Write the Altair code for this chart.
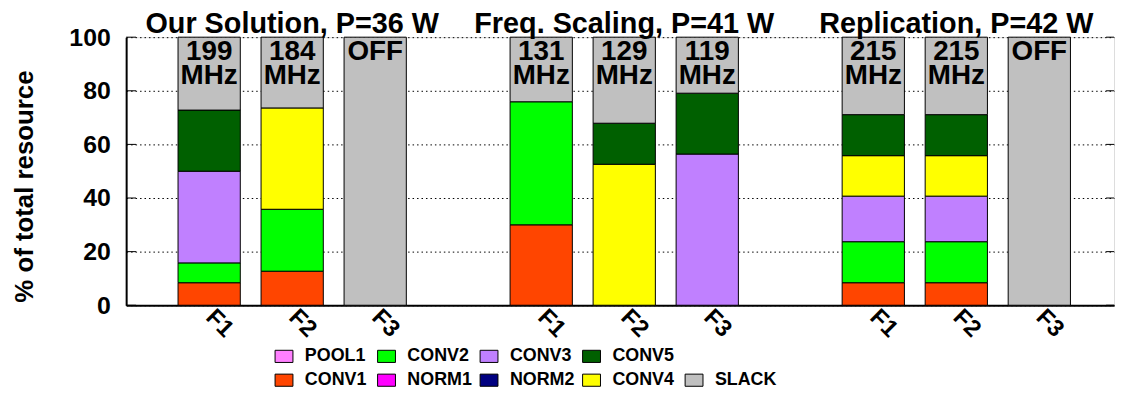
import altair as alt
import pandas as pd

FONT = "Liberation Sans"

# ---------------- data ----------------
group_titles = ["Our Solution, P=36 W", "Freq. Scaling, P=41 W", "Replication, P=42 W"]
group_centers = [2, 6, 10]
bar_positions = [1, 2, 3, 5, 6, 7, 9, 10, 11]
bar_fpga = ["F1", "F2", "F3", "F1", "F2", "F3", "F1", "F2", "F3"]
bar_labels = ["199\n MHz", "184\n MHz", "OFF",
              "131\n MHz", "129\n MHz", "119\n MHz",
              "215\n MHz", "215\n MHz", "OFF"]

components = ["POOL1", "CONV1", "CONV2", "NORM1", "CONV3", "NORM2", "CONV4", "CONV5", "SLACK"]
colors = ["#ff80ff", "#ff4500", "#00ff00", "#ff00ff", "#c080ff", "#000080", "#ffff00", "#006000", "#c0c0c0"]

stack_order = ["CONV1", "CONV2", "CONV3", "CONV4", "CONV5", "SLACK"]
conv1 = [8.4, 12.7, 0, 30.0, 0, 0, 8.4, 8.4, 0]
conv2 = [7.4, 23.1, 0, 45.9, 0, 0, 15.3, 15.3, 0]
conv3 = [34.2, 0, 0, 0, 0, 56.4, 17.0, 17.0, 0]
conv4 = [0, 37.8, 0, 0, 52.6, 0, 15.1, 15.1, 0]
conv5 = [22.8, 0, 0, 0, 15.3, 22.7, 15.3, 15.3, 0]
slack = [27.2, 26.4, 100, 24.1, 32.1, 20.9, 28.9, 28.9, 100]

y_ticks = [0, 20, 40, 60, 80, 100]

legend_row1 = ["POOL1", "CONV2", "CONV3", "CONV5"]
legend_row2 = ["CONV1", "NORM1", "NORM2", "CONV4", "SLACK"]

# ---------------- tables ----------------
series = dict(zip(stack_order, [conv1, conv2, conv3, conv4, conv5, slack]))
rows = []
bar_rows = []
for i, pos in enumerate(bar_positions):
    acc = 0.0
    for comp in stack_order:
        v = series[comp][i]
        if v > 0:
            rows.append({"pos": pos, "component": comp, "y0": acc, "y1": acc + v})
            acc += v
    bar_rows.append({"pos": pos, "label": bar_labels[i], "top": acc})
seg = pd.DataFrame(rows)
bar_df = pd.DataFrame(bar_rows)
title_df = pd.DataFrame({"x": group_centers, "title": group_titles, "y": [100] * 3})
tick_df = pd.DataFrame({"v": y_ticks})
leg_rows = [{"label": l, "lcol": c, "lrow": 0} for c, l in enumerate(legend_row1)]
leg_rows += [{"label": l, "lcol": c, "lrow": 1} for c, l in enumerate(legend_row2)]
leg_df = pd.DataFrame(leg_rows)

W, H = 995, 270
xscale = alt.Scale(domain=[0, 11.9], nice=False, zero=False)
yscale = alt.Scale(domain=[0, 100], nice=False)
color_scale = alt.Scale(domain=components, range=colors)

label_map = "{" + ",".join(f"'{p}':'{f}'" for p, f in zip(bar_positions, bar_fpga)) + "}[datum.value]"

xaxis = alt.Axis(values=bar_positions, labelExpr=label_map, labelAngle=45, labelAlign="left",
                 labelBaseline="middle", labelPadding=8, labelFont=FONT, labelFontSize=24,
                 labelFontWeight="bold", labelColor="black", labelOverlap=False,
                 ticks=False, grid=False, domainColor="black", domainWidth=2, title=None)
yaxis = alt.Axis(values=y_ticks, title="% of total resource", titleFont=FONT, titleFontSize=26,
                 titleFontWeight="bold", titleColor="black", titleAngle=270, titleX=-94, titleY=150,
                 titleBaseline="alphabetic", titleAlign="center",
                 labelFont=FONT, labelFontSize=25, labelFontWeight="bold", labelColor="black",
                 labelPadding=16, ticks=False, domainColor="black", domainWidth=2,
                 grid=True, gridColor="black", gridDash=[1.5, 3], gridWidth=1)

bars = alt.Chart(seg).transform_calculate(
    xa="datum.pos - 0.375", xb="datum.pos + 0.375"
).mark_rect(stroke="black", strokeWidth=1).encode(
    x=alt.X("xa:Q", scale=xscale, axis=xaxis),
    x2="xb:Q",
    y=alt.Y("y0:Q", scale=yscale, axis=yaxis),
    y2="y1:Q",
    color=alt.Color("component:N", scale=color_scale, legend=None),
)

labels = alt.Chart(bar_df).mark_text(
    font=FONT, fontSize=28, fontWeight="bold", color="black", baseline="top",
    align="center", lineBreak="\n", lineHeight=24, dy=1
).encode(x="pos:Q", y="top:Q", text="label:N")

titles = alt.Chart(title_df).mark_text(
    font=FONT, fontSize=29, fontWeight="bold", color="black", baseline="alphabetic",
    align="center", dy=-4
).encode(x="x:Q", y="y:Q", text="title:N")

lticks = alt.Chart(tick_df).mark_rule(color="black", strokeWidth=1).encode(
    x=alt.value(0), x2=alt.value(10), y="v:Q")
rticks = alt.Chart(tick_df).mark_rule(color="black", strokeWidth=1).encode(
    x=alt.value(W - 8), x2=alt.value(W), y="v:Q")

main = alt.layer(bars, labels, titles, lticks, rticks)

leg_x = alt.X("lcol:Q", scale=alt.Scale(domain=[0, 4], range=[159, 572]), axis=None)
leg_y = alt.Y("lrow:Q", scale=alt.Scale(domain=[0, 1], range=[321.5, 345.5]), axis=None)
leg_sym = alt.Chart(leg_df).mark_point(
    shape="M-1,-0.68L1,-0.68L1,0.68L-1,0.68Z", size=324, filled=True, opacity=1,
    stroke="black", strokeWidth=1
).encode(x=leg_x, y=leg_y, fill=alt.Fill("label:N", scale=color_scale, legend=None))
leg_txt = alt.Chart(leg_df).mark_text(
    font=FONT, fontSize=18, fontWeight="bold", color="black", align="left",
    baseline="middle", dx=21
).encode(x=leg_x, y=leg_y, text="label:N")
legend = alt.layer(leg_sym, leg_txt)

chart = alt.layer(main, legend).resolve_scale(x="independent", y="independent").properties(
    width=W, height=H,
    autosize=alt.AutoSizeParams(type="none"),
    padding={"left": 119, "top": 28, "right": 4, "bottom": 86},
).configure_view(stroke=None).configure(background="white")

chart.save("out.html", embed_options={"renderer": "svg", "actions": False})
